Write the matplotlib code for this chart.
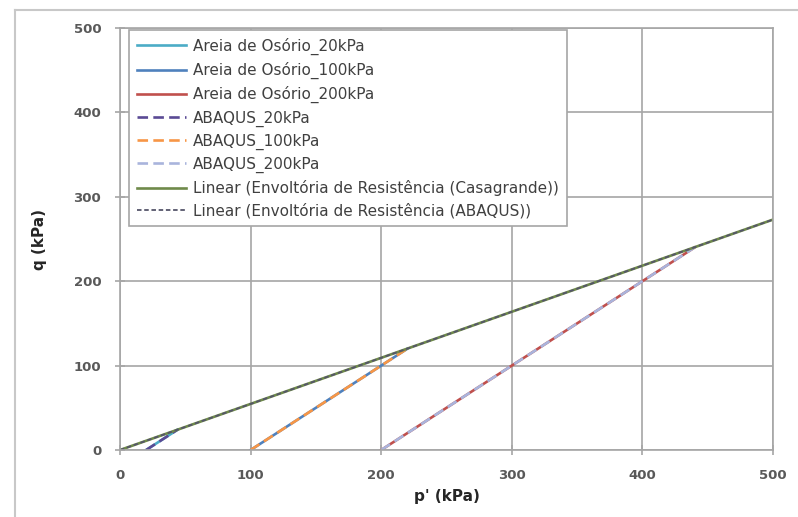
import matplotlib.pyplot as plt
from matplotlib.lines import Line2D

# stress paths, p' (kPa) vs q (kPa)
p_20 = [20, 28, 36, 44]
q_20 = [0, 8, 16, 24]
p_100 = [100, 140, 180, 220]
q_100 = [0, 40, 80, 120]
p_200 = [200, 280, 360, 440]
q_200 = [0, 80, 160, 240]

# failure envelopes
p_env = [0, 500]
q_env_casagrande = [0, 273]
q_env_abaqus = [0, 273]

x_ticks = [0, 100, 200, 300, 400, 500]
y_ticks = [0, 100, 200, 300, 400, 500]

plt.rcParams['font.family'] = ['DejaVu Sans']

fig = plt.figure(figsize=(7.98, 5.17), dpi=100)
ax = fig.add_axes([120 / 798, 67 / 517, 653 / 798, 422 / 517])

# outer chart frame (left and top edges)
fig.add_artist(Line2D([15 / 798, 15 / 798], [-0.01, 1 - 10 / 517],
                      transform=fig.transFigure, color='#c8c8c8', lw=1.5))
fig.add_artist(Line2D([15 / 798, 1.01], [1 - 10 / 517, 1 - 10 / 517],
                      transform=fig.transFigure, color='#c8c8c8', lw=1.5))

lw = 1.9
ax.plot(p_20, q_20, color='#4bacc6', lw=lw, label='Areia de Osório_20kPa')
ax.plot(p_100, q_100, color='#4f81bd', lw=lw, label='Areia de Osório_100kPa')
ax.plot(p_200, q_200, color='#c0504d', lw=lw, label='Areia de Osório_200kPa')
ax.plot(p_20, q_20, color='#5a4a94', lw=lw, ls=(0, (4, 2)), label='ABAQUS_20kPa')
ax.plot(p_100, q_100, color='#f79646', lw=lw, ls=(0, (4, 2)), label='ABAQUS_100kPa')
ax.plot(p_200, q_200, color='#a9b4dc', lw=lw, ls=(0, (4, 2)), label='ABAQUS_200kPa')
ax.plot(p_env, q_env_casagrande, color='#6f8a4a', lw=lw,
        label='Linear (Envoltória de Resistência (Casagrande))')
ax.plot(p_env, q_env_abaqus, color='#55556a', lw=1.3, ls=(0, (2.5, 1.5)),
        label='Linear (Envoltória de Resistência (ABAQUS))')

ax.set_xlim(0, 500)
ax.set_ylim(0, 500)
ax.set_xticks(x_ticks)
ax.set_yticks(y_ticks)
ax.grid(True, color='#a6a6a6', lw=1.2)
ax.set_axisbelow(True)
for s in ax.spines.values():
    s.set_color('#a6a6a6')
    s.set_linewidth(1.2)
ax.tick_params(direction='inout', length=7, color='#a6a6a6', width=1.2,
               labelcolor='#595959', labelsize=9.5, pad=10)
for lab in ax.get_xticklabels() + ax.get_yticklabels():
    lab.set_fontweight('bold')

ax.set_xlabel("p' (kPa)", fontsize=11, fontweight='bold', color='#262626', labelpad=5)
ax.set_ylabel('q (kPa)', fontsize=11, fontweight='bold', color='#262626', labelpad=19)

leg = ax.legend(loc='upper left', bbox_to_anchor=(9 / 653, 1 - 2 / 422),
                borderaxespad=0, fontsize=11, handlelength=3.2,
                labelspacing=0.46, borderpad=0.5, handletextpad=0.5,
                fancybox=False, framealpha=1, edgecolor='#a6a6a6')
leg.get_frame().set_linewidth(1.2)
for t in leg.get_texts():
    t.set_color('#404040')

fig.savefig('out.png', dpi=100)
